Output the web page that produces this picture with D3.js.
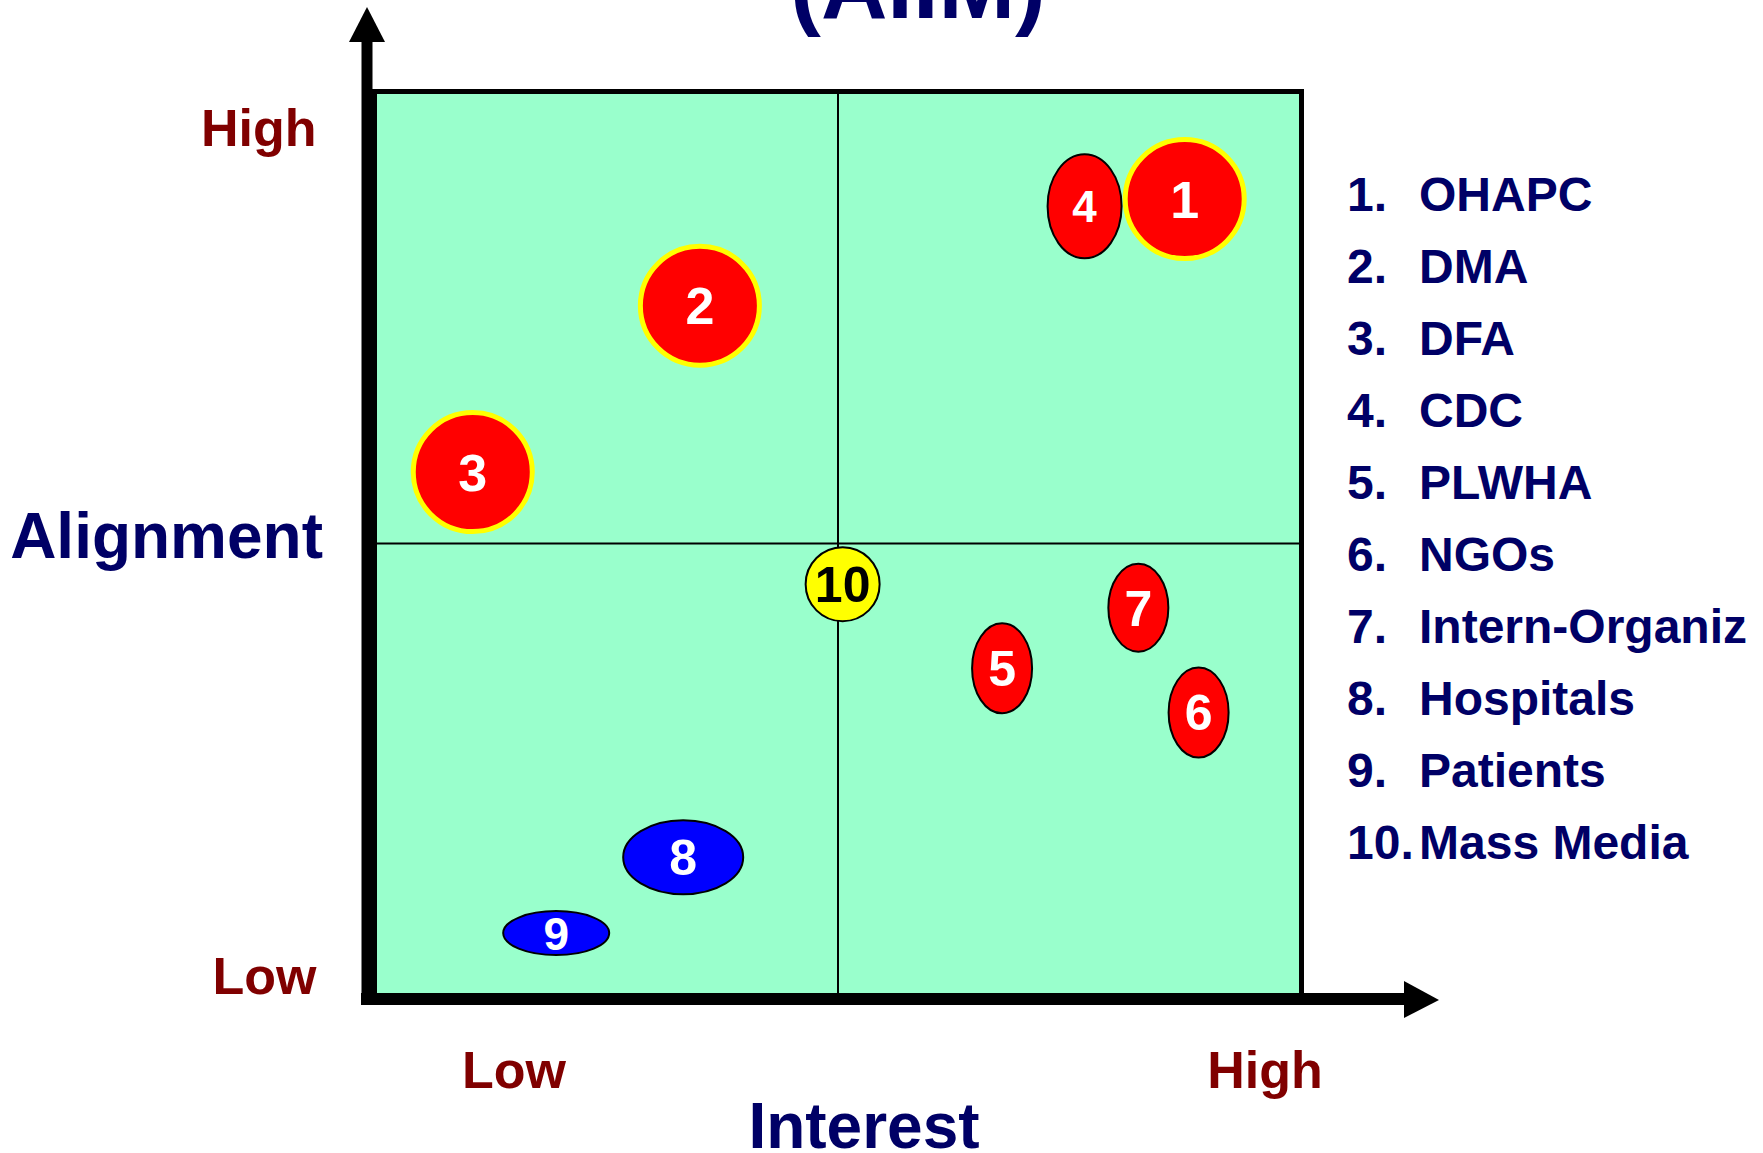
<!DOCTYPE html>
<html>
<head>
<meta charset="utf-8">
<script src="https://cdn.jsdelivr.net/npm/d3@7"></script>
<style>
  html, body { margin: 0; padding: 0; background: #ffffff; }
  svg { display: block; }
  text { font-family: "Liberation Sans", Arial, sans-serif; font-weight: bold; }
</style>
</head>
<body>
<svg id="chart" width="1763" height="1153"></svg>
<script>
// ---------------- data ----------------
const ids        = ["1", "2", "3", "4", "5", "6", "7", "8", "9", "10"];
const names      = ["OHAPC", "DMA", "DFA", "CDC", "PLWHA", "NGOs", "Intern-Organiz", "Hospitals", "Patients", "Mass Media"];
const interest   = [8.74, 3.51, 1.06, 7.66, 6.77, 8.89, 8.24, 3.33, 1.96, 5.05];
const alignment  = [8.81, 7.63, 5.79, 8.73, 3.62, 3.13, 4.29, 1.53, 0.69, 4.55];
const groups     = ["key", "key", "key", "red", "red", "red", "red", "blue", "blue", "media"];
const tickLabels = ["Low", "High"];
const xTickVals  = [1.5, 9.6];
const yTickVals  = [0.21, 9.59];
const titleText  = "(AIIM)";
const xTitle     = "Interest";
const yTitle     = "Alignment";

// ---------------- styles (not data) ----------------
const bubbleRx   = [62, 62, 62, 38, 31, 31, 31, 61, 54, 38];
const bubbleRy   = [62, 62, 62, 53, 46, 46, 45, 38, 23, 38];
const labelSize  = [52, 52, 52, 44, 50, 50, 50, 50, 46, 50];
const groupStyle = {
  key:   { fill: "#FF0000", stroke: "#FFFF00", sw: 5,   text: "#FFFFFF" },
  red:   { fill: "#FF0000", stroke: "#000000", sw: 2,   text: "#FFFFFF" },
  blue:  { fill: "#0000FF", stroke: "#000000", sw: 2,   text: "#FFFFFF" },
  media: { fill: "#FFFF00", stroke: "#000000", sw: 2,   text: "#000000" }
};
const NAVY = "#000066", MAROON = "#800000", GREEN = "#99FFCC";

// ---------------- layout ----------------
const box = { left: 374.5, right: 1301.5, top: 91.5, bottom: 995.5 };
const svg = d3.select("#chart");

const x = d3.scaleLinear().domain([0, 10]).range([box.left, box.right]);
const y = d3.scaleLinear().domain([0, 10]).range([box.bottom, box.top]);

// plot background
svg.append("rect")
  .attr("x", x(0)).attr("y", y(10))
  .attr("width", x(10) - x(0)).attr("height", y(0) - y(10))
  .attr("fill", GREEN).attr("stroke", "#000").attr("stroke-width", 5);

// quadrant dividers
svg.append("line")
  .attr("x1", x(5)).attr("x2", x(5)).attr("y1", y(10)).attr("y2", y(0))
  .attr("stroke", "#000").attr("stroke-width", 2);
svg.append("line")
  .attr("x1", x(0)).attr("x2", x(10)).attr("y1", y(5)).attr("y2", y(5))
  .attr("stroke", "#000").attr("stroke-width", 2);

// arrows (axes)
const yAxX = x(0) - 7.5, xAxY = y(0) + 3.5;
svg.append("line")
  .attr("x1", yAxX).attr("x2", yAxX).attr("y1", xAxY + 6).attr("y2", 40)
  .attr("stroke", "#000").attr("stroke-width", 11);
svg.append("path")
  .attr("d", `M${yAxX - 18},42 L${yAxX},7 L${yAxX + 18},42 Z`).attr("fill", "#000");
svg.append("line")
  .attr("x1", yAxX - 6).attr("x2", 1406).attr("y1", xAxY).attr("y2", xAxY)
  .attr("stroke", "#000").attr("stroke-width", 12);
svg.append("path")
  .attr("d", `M1404,${xAxY - 18} L1439,${xAxY + 1} L1404,${xAxY + 19} Z`).attr("fill", "#000");

// axis tick labels (Low / High) through d3 axes
const yAxis = d3.axisLeft(y).tickValues(yTickVals).tickSize(0).tickPadding(58)
  .tickFormat((d, i) => tickLabels[i]);
const gy = svg.append("g").attr("transform", `translate(${x(0)},0)`).call(yAxis);
gy.select(".domain").remove();
gy.selectAll("text").attr("font-size", 52).attr("fill", MAROON)
  .attr("font-family", "Liberation Sans, Arial, sans-serif").attr("font-weight", "bold");

const xAxis = d3.axisBottom(x).tickValues(xTickVals).tickSize(0).tickPadding(55.6)
  .tickFormat((d, i) => tickLabels[i]);
const gx = svg.append("g").attr("transform", `translate(0,${y(0)})`).call(xAxis);
gx.select(".domain").remove();
gx.selectAll("text").attr("font-size", 52).attr("fill", MAROON)
  .attr("font-family", "Liberation Sans, Arial, sans-serif").attr("font-weight", "bold");

// axis titles
svg.append("text").attr("x", 323).attr("y", 558).attr("text-anchor", "end")
  .attr("font-size", 64).attr("fill", NAVY).text(yTitle);
svg.append("text").attr("x", 864).attr("y", 1148).attr("text-anchor", "middle")
  .attr("font-size", 64).attr("fill", NAVY).text(xTitle);

// title (cut off at top)
svg.append("text").attr("x", 918).attr("y", 18).attr("text-anchor", "middle")
  .attr("font-size", 92).attr("fill", NAVY).text(titleText);

// bubbles
const pts = ids.map((id, i) => ({ id, i, x: interest[i], y: alignment[i], g: groups[i] }));
const nodes = svg.append("g").selectAll("g").data(pts).join("g")
  .attr("transform", d => `translate(${x(d.x)},${y(d.y)})`);
nodes.append("ellipse")
  .attr("rx", d => bubbleRx[d.i] - groupStyle[d.g].sw / 2)
  .attr("ry", d => bubbleRy[d.i] - groupStyle[d.g].sw / 2)
  .attr("fill", d => groupStyle[d.g].fill)
  .attr("stroke", d => groupStyle[d.g].stroke)
  .attr("stroke-width", d => groupStyle[d.g].sw);
nodes.append("text")
  .attr("text-anchor", "middle")
  .attr("y", d => 0.358 * labelSize[d.i])
  .attr("font-size", d => labelSize[d.i])
  .attr("fill", d => groupStyle[d.g].text)
  .text(d => d.id);

// legend list
const legend = svg.append("g").selectAll("g").data(names).join("g")
  .attr("transform", (d, i) => `translate(1347,${211 + 72 * i})`);
legend.append("text").attr("x", 0).attr("font-size", 48).attr("fill", NAVY)
  .text((d, i) => ids[i] + ".");
legend.append("text").attr("x", 72).attr("font-size", 48).attr("fill", NAVY)
  .text(d => d);
</script>
</body>
</html>
